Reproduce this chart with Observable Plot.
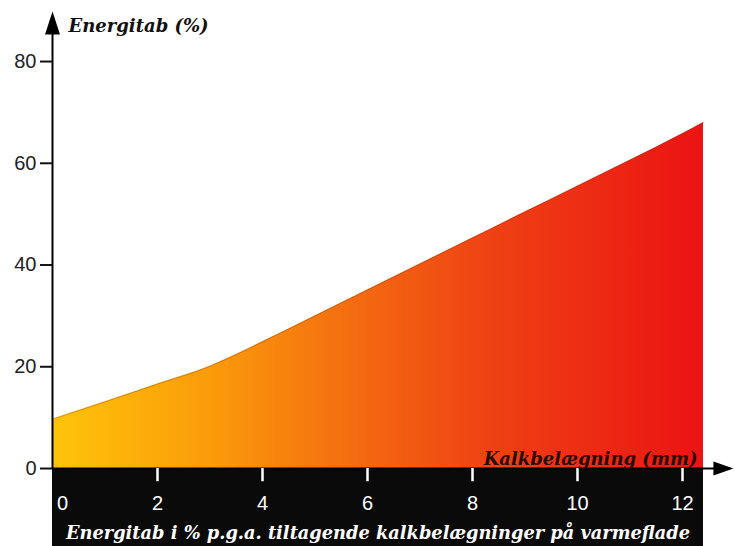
<!DOCTYPE html>
<html>
<head>
<meta charset="utf-8">
<script src="https://cdn.jsdelivr.net/npm/d3@7"></script>
<script src="https://cdn.jsdelivr.net/npm/@observablehq/plot@0.6"></script>
<style>
  html, body { margin: 0; padding: 0; background: #fff; }
  svg { display: block; }
</style>
</head>
<body>
<div id="chart"></div>
<script>
// Data
const kalk      = [0, 1, 2, 3, 3.5, 4, 5, 6, 7, 8, 9, 10, 11, 12, 12.4];
const energitab = [9.7, 13.1, 16.6, 20.1, 22.4, 24.9, 30.0, 35.1, 40.2, 45.3, 50.4, 55.5, 60.6, 65.8, 68];

const xTicks = [0, 2, 4, 6, 8, 10, 12];
const yTicks = [0, 20, 40, 60, 80];

const yTitle  = "Energitab (%)";
const xTitle  = "Kalkbelægning (mm)";
const caption = "Energitab i % p.g.a. tiltagende kalkbelægninger på varmeflade";

const xDomain = [0, 12.4];
const yDomain = [-15.33, 92];

const gradStops = [
  [0.00, "#ffc40a"],
  [0.25, "#fa9a0a"],
  [0.45, "#f46e10"],
  [0.68, "#ef4014"],
  [1.00, "#eb1313"]
];

const data = kalk.map((x, i) => ({x, y: energitab[i]}));

const serif = "'DejaVu Serif', serif";
const sans = "'Liberation Sans', Arial, sans-serif";

const arrowUp = {draw(ctx) { ctx.moveTo(0, -12); ctx.lineTo(7.5, 11); ctx.lineTo(-7.5, 11); ctx.closePath(); }};
const arrowRight = {draw(ctx) { ctx.moveTo(0, -10); ctx.lineTo(7, 10); ctx.lineTo(-7, 10); ctx.closePath(); }};

function gradientDefs() {
  const g = d3.create("svg:g");
  const lg = g.append("defs").append("linearGradient")
    .attr("id", "heat").attr("x1", "0").attr("x2", "1").attr("y1", "0").attr("y2", "0");
  gradStops.forEach(([o, c]) => lg.append("stop").attr("offset", o).attr("stop-color", c));
  return g.node();
}

const chart = Plot.plot({
  width: 735,
  height: 546,
  marginLeft: 52,
  marginRight: 32,
  marginTop: 0,
  marginBottom: 0,
  x: {domain: xDomain, axis: null},
  y: {domain: yDomain, axis: null},
  style: {background: "#fff", overflow: "visible"},
  marks: [
    gradientDefs,
    Plot.areaY(data, {x: "x", y: "y", fill: "url(#heat)", curve: "monotone-x"}),
    Plot.lineY(data, {x: "x", y: "y", curve: "monotone-x", stroke: "#a03008", strokeOpacity: 0.35, strokeWidth: 1}),
    // black band under the axis
    Plot.rect([0], {x1: xDomain[0], x2: xDomain[1], y1: yDomain[0], y2: 0, fill: "#0b0a0a"}),
    // x axis line and arrow
    Plot.ruleY([0], {x1: 0, x2: 12.65, stroke: "#000", strokeWidth: 2}),
    Plot.dot([12.78], {x: d => d, y: 0, symbol: arrowRight, rotate: 90, fill: "#000", stroke: null, r: 5}),
    // y axis line and arrow
    Plot.ruleX([0], {y1: 0, y2: 87, stroke: "#000", strokeWidth: 2}),
    Plot.dot([87.5], {x: 0, y: d => d, symbol: arrowUp, fill: "#000", stroke: null, r: 5}),
    // y ticks
    Plot.axisY({ticks: yTicks, tickSize: 12, tickPadding: 4, label: null, fontSize: 20, fontFamily: sans, fill: "#222", stroke: "#111", strokeWidth: 2}),
    // x ticks (white, in black band)
    Plot.ruleX(xTicks.filter(d => d > 0), {x: d => d, y1: 0, y2: -2.6, stroke: "#fff", strokeWidth: 2.5}),
    Plot.text(xTicks.filter(d => d > 0), {x: d => d, y: -6.9, text: d => String(d), fill: "#fff", fontSize: 20, fontFamily: sans}),
    Plot.text(xTicks.filter(d => d === 0), {x: d => d, y: -6.9, dx: 10, text: d => String(d), fill: "#fff", fontSize: 20, fontFamily: sans}),
    // titles
    Plot.text([yTitle], {frameAnchor: "top-left", dx: 16, dy: 26, text: d => d, textAnchor: "start", lineAnchor: "middle",
      fontSize: 18, fontWeight: "bold", fontStyle: "italic", fontFamily: serif, fill: "#111"}),
    Plot.text([xTitle], {x: xDomain[1], y: 0, dx: -6, dy: -9, text: d => d, textAnchor: "end", lineAnchor: "middle",
      fontSize: 18, fontWeight: "bold", fontStyle: "italic", fontFamily: serif, fill: "#2a0b04"}),
    Plot.text([caption], {frameAnchor: "bottom", dy: -13, text: d => d, lineAnchor: "middle",
      fontSize: 17.8, fontWeight: "bold", fontStyle: "italic", fontFamily: serif, fill: "#fff"})
  ]
});

document.getElementById("chart").appendChild(chart);
</script>
</body>
</html>
